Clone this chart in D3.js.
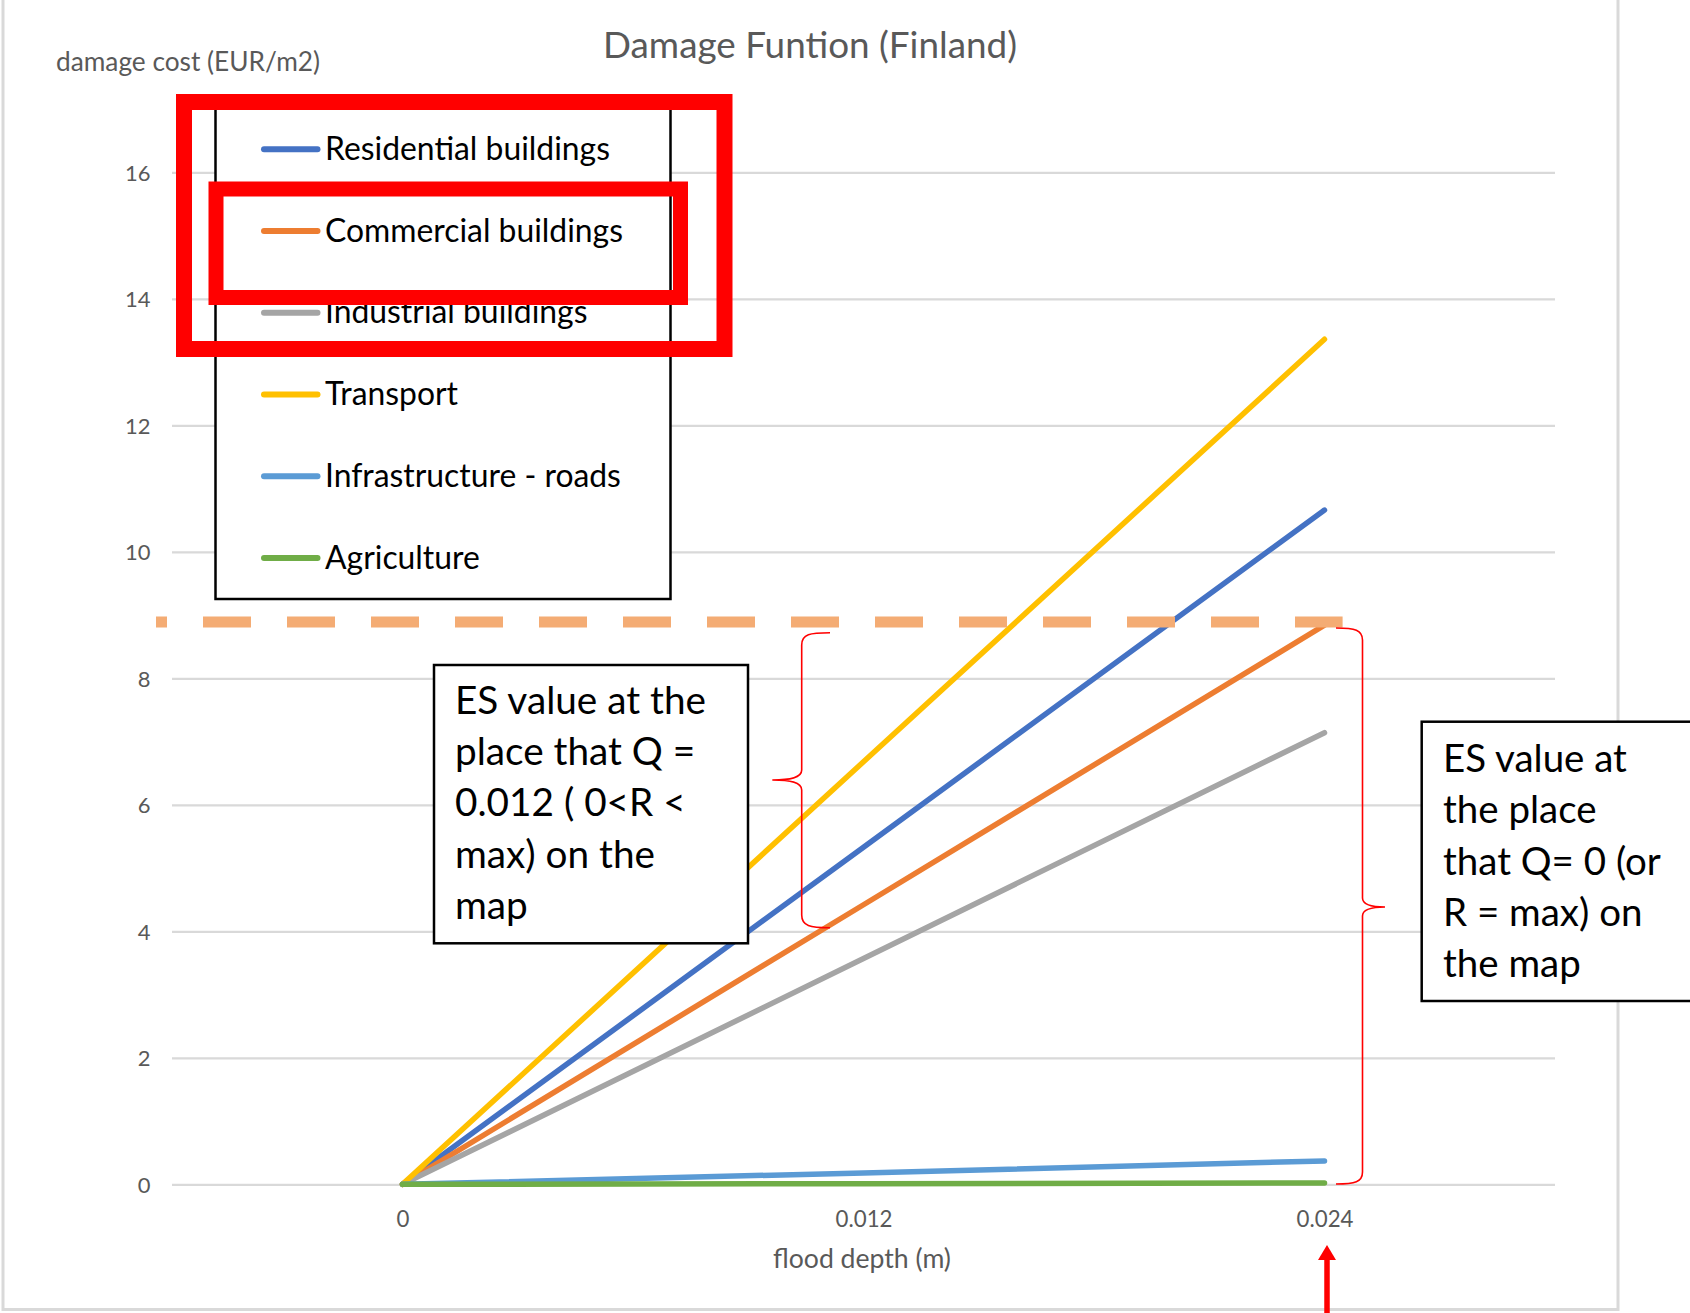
<!DOCTYPE html>
<html>
<head>
<meta charset="utf-8">
<script src="https://cdn.jsdelivr.net/npm/d3@7"></script>
<style>
  html, body { margin: 0; padding: 0; background: #ffffff; }
  svg { display: block; }
</style>
</head>
<body>
<svg id="chart" width="1690" height="1313"></svg>
<script>
// ---------------- data ----------------
const categories = ["0", "0.012", "0.024"];
const seriesNames = ["Residential buildings", "Commercial buildings", "Industrial buildings",
                     "Transport", "Infrastructure - roads", "Agriculture"];
const residential    = [0, 5.33, 10.66];
const commercial     = [0, 4.42, 8.84];
const industrial     = [0, 3.57, 7.14];
const transport      = [0, 6.68, 13.36];
const infrastructure = [0, 0.18, 0.37];
const agriculture    = [0, 0.01, 0.02];
const yTicks = [0, 2, 4, 6, 8, 10, 12, 14, 16];
const dashedLevel = 8.89;
const titleText = "Damage Funtion (Finland)";
const yTitleText = "damage cost (EUR/m2)";
const xTitleText = "flood depth (m)";
const note1Lines = ["ES value at the", "place that Q =", "0.012 ( 0<R <", "max) on the", "map"];
const note2Lines = ["ES value at", "the place", "that Q= 0 (or", "R = max) on", "the map"];

const seriesValues = [residential, commercial, industrial, transport, infrastructure, agriculture];
const seriesColors = ["#4472C4", "#ED7D31", "#A5A5A5", "#FFC000", "#5B9BD5", "#70AD47"];

// ---------------- setup ----------------
const svg = d3.select("#chart");
const FONT = "Lato, 'Open Sans', sans-serif";
const AXIS_GREY = "#595959";
const GRID = "#d9d9d9";

function fitSize(text, target) {
  const t = svg.append("text").attr("font-family", FONT).attr("font-size", 100).text(text);
  const w = t.node().getComputedTextLength();
  t.remove();
  return 100 * target / w;
}

const plot = { left: 172, right: 1555, top: 172.3, bottom: 1184.3 };
const x = d3.scalePoint().domain(categories).range([plot.left, plot.right]).padding(0.5);
const y = d3.scaleLinear().domain([0, 16]).range([plot.bottom, plot.top]);

// chart area border
svg.append("rect")
  .attr("x", 3).attr("y", -6).attr("width", 1615).attr("height", 1315.5)
  .attr("fill", "#ffffff").attr("stroke", GRID).attr("stroke-width", 3);

// gridlines
const grid = svg.append("g").attr("transform", `translate(${plot.left},0)`)
  .call(d3.axisLeft(y).tickValues(yTicks).tickSize(-(plot.right - plot.left)).tickFormat(""));
grid.select(".domain").remove();
grid.selectAll("line").attr("stroke", GRID).attr("stroke-width", 2.2);

// y tick labels
const yTickSize = fitSize("16", 25.5);
const yAxis = svg.append("g").attr("transform", `translate(150.5,0)`)
  .call(d3.axisLeft(y).tickValues(yTicks).tickSize(0).tickPadding(0).tickFormat(d3.format("d")));
yAxis.select(".domain").remove();
yAxis.selectAll("text").attr("font-family", FONT).attr("font-size", yTickSize)
  .attr("fill", AXIS_GREY).attr("dy", "0.36em").attr("x", 0);

// x tick labels
const xTickSize = fitSize("0.012", 57);
const xAxis = svg.append("g").attr("transform", `translate(0,1227)`)
  .call(d3.axisBottom(x).tickSize(0).tickPadding(0));
xAxis.select(".domain").remove();
xAxis.selectAll("text").attr("font-family", FONT).attr("font-size", xTickSize)
  .attr("fill", AXIS_GREY).attr("dy", 0).attr("y", 0);

// axis titles and chart title
svg.append("text").attr("x", 810).attr("y", 58.3).attr("text-anchor", "middle")
  .attr("font-family", FONT).attr("font-size", fitSize(titleText, 414))
  .attr("fill", AXIS_GREY).text(titleText);
svg.append("text").attr("x", 56).attr("y", 71).attr("text-anchor", "start")
  .attr("font-family", FONT).attr("font-size", fitSize(yTitleText, 264))
  .attr("fill", AXIS_GREY).text(yTitleText);
svg.append("text").attr("x", 862).attr("y", 1268).attr("text-anchor", "middle")
  .attr("font-family", FONT).attr("font-size", fitSize(xTitleText, 178))
  .attr("fill", AXIS_GREY).text(xTitleText);

// series lines
const line = d3.line().x((d, i) => x(categories[i])).y(d => y(d));
seriesValues.forEach((vals, k) => {
  svg.append("path").datum(vals)
    .attr("d", line).attr("fill", "none")
    .attr("stroke", seriesColors[k]).attr("stroke-width", 5.5)
    .attr("stroke-linecap", "round").attr("stroke-linejoin", "round");
});

// dashed level line
svg.append("line")
  .attr("x1", 156).attr("x2", 1342.6)
  .attr("y1", y(dashedLevel)).attr("y2", y(dashedLevel))
  .attr("stroke", "#F4AC74").attr("stroke-width", 11)
  .attr("stroke-dasharray", "48 36").attr("stroke-dashoffset", 37);

// legend
const legend = svg.append("g");
legend.append("rect").attr("x", 215.5).attr("y", 104).attr("width", 455).attr("height", 495)
  .attr("fill", "#ffffff").attr("stroke", "#000000").attr("stroke-width", 2.5);
const legSize = fitSize("Infrastructure - roads", 296);
seriesNames.forEach((name, i) => {
  const cy = 149.3 + i * 81.75;
  legend.append("line").attr("x1", 264).attr("x2", 317.5).attr("y1", cy).attr("y2", cy)
    .attr("stroke", seriesColors[i]).attr("stroke-width", 6).attr("stroke-linecap", "round");
  legend.append("text").attr("x", 325).attr("y", cy + 10.5)
    .attr("font-family", FONT).attr("font-size", legSize).attr("fill", "#000000").text(name);
});

// red highlight rectangles
svg.append("rect").attr("x", 184).attr("y", 102).attr("width", 540.5).attr("height", 247)
  .attr("fill", "none").attr("stroke", "#FF0000").attr("stroke-width", 16);
svg.append("rect").attr("x", 216).attr("y", 189).attr("width", 464.5).attr("height", 108.5)
  .attr("fill", "none").attr("stroke", "#FF0000").attr("stroke-width", 15);

// annotation box 1
svg.append("rect").attr("x", 434).attr("y", 665).attr("width", 314).attr("height", 278.3)
  .attr("fill", "#ffffff").attr("stroke", "#000000").attr("stroke-width", 2.5);
const n1Size = fitSize(note1Lines[0], 251);
note1Lines.forEach((t, i) => {
  svg.append("text").attr("x", 455).attr("y", 714 + i * 51.2)
    .attr("font-family", FONT).attr("font-size", n1Size).attr("fill", "#000000").text(t);
});

// annotation box 2
svg.append("rect").attr("x", 1421.7).attr("y", 721.7).attr("width", 300).attr("height", 279.3)
  .attr("fill", "#ffffff").attr("stroke", "#000000").attr("stroke-width", 2.5);
const n2Size = fitSize(note2Lines[0], 184);
note2Lines.forEach((t, i) => {
  svg.append("text").attr("x", 1443).attr("y", 771.7 + i * 51.4)
    .attr("font-family", FONT).attr("font-size", n2Size).attr("fill", "#000000").text(t);
});

// braces
svg.append("path")
  .attr("d", "M830,632.7 C810,632.7 801.7,634 801.7,645 L801.7,770 C801.7,778 790,780 772.3,780 C790,780 801.7,782 801.7,790 L801.7,915 C801.7,926 810,927.7 830,927.7")
  .attr("fill", "none").attr("stroke", "#FF0000").attr("stroke-width", 1.6);
svg.append("path")
  .attr("d", "M1336,628 C1355,628 1362.5,630 1362.5,640 L1362.5,898 C1362.5,905 1372,907 1385,907 C1372,907 1362.5,909 1362.5,916 L1362.5,1172 C1362.5,1182 1355,1184 1336,1184")
  .attr("fill", "none").attr("stroke", "#FF0000").attr("stroke-width", 1.6);

// red arrow under 0.024
const ax = x("0.024") + 2.5;
svg.append("line").attr("x1", ax).attr("x2", ax).attr("y1", 1256).attr("y2", 1313)
  .attr("stroke", "#FF0000").attr("stroke-width", 5.5);
svg.append("path")
  .attr("d", `M${ax},1245 L${ax + 9},1260 L${ax - 9},1260 Z`)
  .attr("fill", "#FF0000");
</script>
</body>
</html>
